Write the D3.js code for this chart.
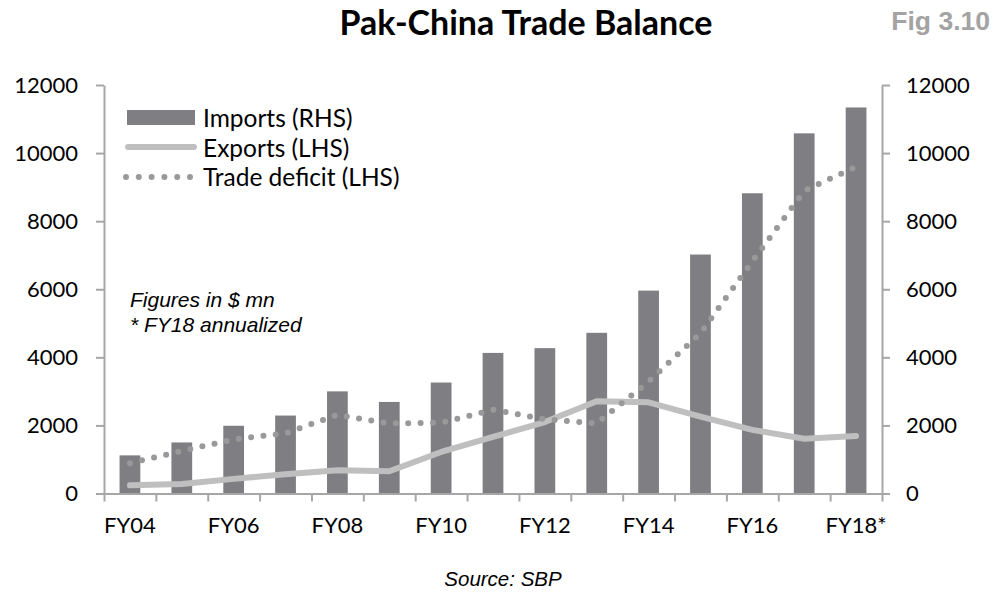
<!DOCTYPE html>
<html>
<head>
<meta charset="utf-8">
<script src="https://cdn.jsdelivr.net/npm/d3@7"></script>
<style>
  body { margin: 0; background: #fff; }
  svg { display: block; }
  .axis text { font-family: Lato, "Open Sans", sans-serif; font-size: 22px; fill: #000; }
  .axis path, .axis line { stroke: #a6a6a6; stroke-width: 2; }
</style>
</head>
<body>
<svg id="chart" width="995" height="595"></svg>
<script>
// values in $ mn
var years = ["FY04","FY05","FY06","FY07","FY08","FY09","FY10","FY11","FY12","FY13","FY14","FY15","FY16","FY17","FY18*"];
var imports = [1120, 1500, 1990, 2290, 3000, 2690, 3260, 4130, 4270, 4720, 5960, 7020, 8820, 10580, 11340];
var exports = [240, 280, 430, 565, 680, 655, 1220, 1660, 2100, 2710, 2680, 2260, 1870, 1610, 1690];
var deficit = [890, 1250, 1590, 1770, 2310, 2060, 2080, 2460, 2180, 2060, 3290, 4710, 6820, 8890, 9600];
var yTicks = [0, 2000, 4000, 6000, 8000, 10000, 12000];
var xLabels = ["FY04","FY06","FY08","FY10","FY12","FY14","FY16","FY18*"];
var legendItems = ["Imports (RHS)", "Exports (LHS)", "Trade deficit (LHS)"];
var notes = ["Figures in $ mn", "* FY18 annualized"];

var svg = d3.select("#chart");
var plotLeft = 104, plotRight = 882, plotTop = 85, plotBottom = 493.5;

var x = d3.scaleBand().domain(years).range([plotLeft, plotRight]).paddingInner(0.6).paddingOuter(0.3);
var y = d3.scaleLinear().domain([0, 12000]).range([plotBottom, plotTop]);
var edge = d3.scaleLinear().domain([0, years.length]).range([plotLeft, plotRight]);

// title
svg.append("text")
  .attr("x", 526).attr("y", 35)
  .attr("text-anchor", "middle")
  .style("font-family", "Lato, 'Open Sans', sans-serif")
  .style("font-weight", "bold")
  .style("font-size", "34px")
  .text("Pak-China Trade Balance");

svg.append("text")
  .attr("x", 990).attr("y", 30)
  .attr("text-anchor", "end")
  .style("font-family", "'Liberation Sans', Arial, sans-serif")
  .style("font-weight", "bold")
  .style("font-size", "26.5px")
  .style("fill", "#a3a3a3")
  .text("Fig 3.10");

// bars
svg.append("g").selectAll("rect")
  .data(imports)
  .enter().append("rect")
  .attr("x", function(d, i) { return x(years[i]); })
  .attr("y", function(d) { return y(d); })
  .attr("width", x.bandwidth())
  .attr("height", function(d) { return plotBottom - y(d); })
  .attr("fill", "#7f7f83");

var line = d3.line()
  .x(function(d, i) { return x(years[i]) + x.bandwidth() / 2; })
  .y(function(d) { return y(d); });

svg.append("path")
  .datum(exports)
  .attr("d", line)
  .attr("fill", "none")
  .attr("stroke", "#bfbfbf")
  .attr("stroke-width", 6)
  .attr("stroke-linecap", "round")
  .attr("stroke-linejoin", "round");

svg.append("path")
  .datum(deficit)
  .attr("d", line)
  .attr("fill", "none")
  .attr("stroke", "#999999")
  .attr("stroke-width", 6)
  .attr("stroke-dasharray", "0,12.4")
  .attr("stroke-linecap", "round");

// axes
svg.append("g")
  .attr("class", "axis")
  .attr("transform", "translate(" + plotLeft + ",0)")
  .call(d3.axisLeft(y).tickValues(yTicks).tickSize(8).tickSizeOuter(0).tickPadding(18).tickFormat(d3.format("d")));

svg.append("g")
  .attr("class", "axis")
  .attr("transform", "translate(" + plotRight + ",0)")
  .call(d3.axisRight(y).tickValues(yTicks).tickSize(8).tickSizeOuter(0).tickPadding(16).tickFormat(d3.format("d")));

// x axis: ticks on category edges, labels every other year
svg.append("g")
  .attr("class", "axis")
  .attr("transform", "translate(0," + plotBottom + ")")
  .call(d3.axisBottom(edge).tickValues(d3.range(years.length + 1)).tickSize(8).tickSizeOuter(0).tickFormat(""));

var xl = svg.append("g")
  .attr("class", "axis")
  .attr("transform", "translate(0," + plotBottom + ")")
  .call(d3.axisBottom(x).tickValues(xLabels).tickSize(0).tickPadding(24));
xl.select(".domain").remove();

// legend
var lg = svg.append("g");
lg.append("rect").attr("x", 127).attr("y", 110).attr("width", 68).attr("height", 15).attr("fill", "#7f7f83");
lg.append("line").attr("x1", 128).attr("x2", 194).attr("y1", 147).attr("y2", 147)
  .attr("stroke", "#bfbfbf").attr("stroke-width", 6).attr("stroke-linecap", "round");
lg.append("line").attr("x1", 126).attr("x2", 192).attr("y1", 177).attr("y2", 177)
  .attr("stroke", "#999999").attr("stroke-width", 6).attr("stroke-dasharray", "0,12.8").attr("stroke-linecap", "round");
lg.selectAll("text")
  .data(legendItems)
  .enter().append("text")
  .attr("x", 203)
  .attr("y", function(d, i) { return 127 + i * 29.5; })
  .style("font-family", "Lato, 'Open Sans', sans-serif")
  .style("font-size", "24.5px")
  .text(function(d) { return d; });

// notes
svg.append("g").selectAll("text")
  .data(notes)
  .enter().append("text")
  .attr("x", 130)
  .attr("y", function(d, i) { return 307 + i * 25; })
  .style("font-family", "'Liberation Sans', Arial, sans-serif")
  .style("font-style", "italic")
  .style("font-size", "21px")
  .text(function(d) { return d; });

svg.append("text")
  .attr("x", 503).attr("y", 586)
  .attr("text-anchor", "middle")
  .style("font-family", "'Liberation Sans', Arial, sans-serif")
  .style("font-style", "italic")
  .style("font-size", "20.5px")
  .text("Source: SBP");
</script>
</body>
</html>
